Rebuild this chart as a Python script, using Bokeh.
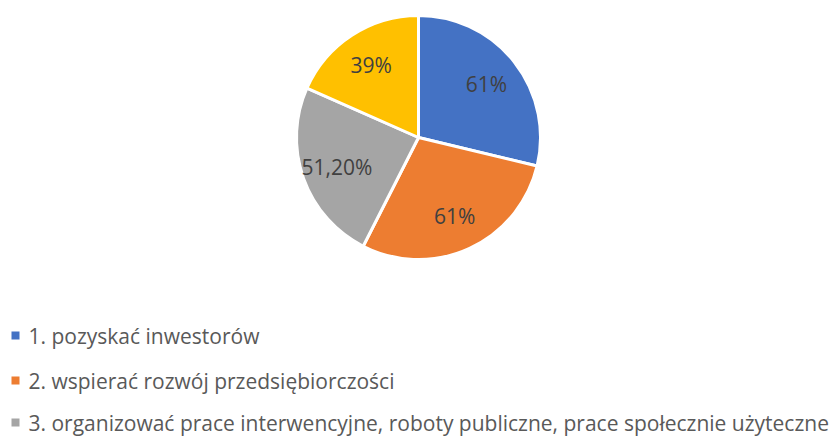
import numpy as np
from bokeh.plotting import figure
from bokeh.models import Range1d, ColumnDataSource
from bokeh.core.properties import value
from bokeh.embed import file_html
from bokeh.resources import INLINE

# ---- data ----
categories = [
    "1. pozyskać inwestorów",
    "2. wspierać rozwój przedsiębiorczości",
    "3. organizować prace interwencyjne, roboty publiczne, prace społecznie użyteczne",
    "4. inne",
]
values = [61.0, 61.0, 51.2, 39.0]
value_labels = ["61%", "61%", "51,20%", "39%"]
colors = ["#4472C4", "#ED7D31", "#A5A5A5", "#FFC000"]
legend_shown = 3  # only the first three legend rows are visible in the picture

W, H = 833, 436
p = figure(width=W, height=H, output_backend="svg", toolbar_location=None,
           x_range=Range1d(0, W), y_range=Range1d(0, H), min_border=0)
p.axis.visible = False
p.grid.visible = False
p.outline_line_color = None
p.background_fill_color = "white"
p.border_fill_color = "white"

cx, cy, r = 418, H - 137, 122
vals = np.array(values)
frac = vals / vals.sum()
ends = np.pi / 2 - 2 * np.pi * np.cumsum(frac)
starts = np.pi / 2 - 2 * np.pi * np.concatenate([[0], np.cumsum(frac)[:-1]])
src = ColumnDataSource(dict(start=starts, end=ends, color=colors,
                            x=[cx] * 4, y=[cy] * 4))
p.wedge(x="x", y="y", radius=r, start_angle="end", end_angle="start",
        fill_color="color", line_color="white", line_width=3, source=src)

mid = (starts + ends) / 2
lr = 0.71 * r
lsrc = ColumnDataSource(dict(x=cx + lr * np.cos(mid), y=cy + lr * np.sin(mid),
                             t=value_labels))
p.text(x="x", y="y", text="t", source=lsrc, text_font=value("Open Sans"),
       text_font_size="21px", text_color="#404040", text_align="center",
       text_baseline="middle")

# legend
rows_y = [H - 335, H - 380, H - 422]
leg = ColumnDataSource(dict(x=[15] * legend_shown, y=rows_y[:legend_shown],
                            tx=[28] * legend_shown,
                            color=colors[:legend_shown],
                            t=categories[:legend_shown]))
p.rect(x="x", y="y", width=8, height=8, fill_color="color", line_color=None,
       source=leg)
p.text(x="tx", y="y", text="t", source=leg, text_font=value("Open Sans"),
       text_font_size="21px", text_color="#595959", text_align="left",
       text_baseline="middle")

open("out.html", "w").write(file_html(p, INLINE))
